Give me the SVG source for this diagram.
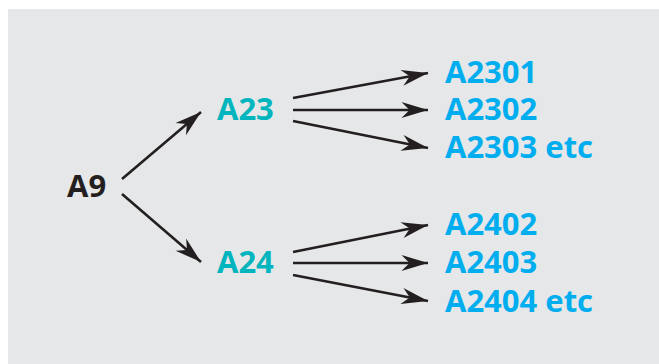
<svg xmlns="http://www.w3.org/2000/svg" width="659" height="364" viewBox="0 0 659 364">
<style>
.t{font-family:"Open Sans","Liberation Sans",sans-serif;font-weight:700;font-size:31px}
.root{fill:#231f20}
.mid{fill:#00b5bd}
.leaf{fill:#00aeef}
.c line{stroke:#231f20;stroke-width:2.6;marker-end:url(#ah)}
</style>
<defs>
<marker id="ah" markerUnits="userSpaceOnUse" markerWidth="30" markerHeight="20" viewBox="-24 -8 26 16" refX="0" refY="0" orient="auto">
<path d="M0,0 L-23,-7 L-16,0 L-23,7 Z" fill="#231f20"/>
</marker>
</defs>
<rect x="8" y="9" width="651" height="355" fill="#e6e7e8"/>
<g class="c" id="connectors">
<line x1="122" y1="179" x2="201" y2="112"/>
<line x1="122" y1="194" x2="201" y2="262"/>
<line x1="293" y1="98" x2="428" y2="73"/>
<line x1="293" y1="110" x2="428" y2="110"/>
<line x1="293" y1="121" x2="428" y2="148"/>
<line x1="293" y1="252" x2="428" y2="225"/>
<line x1="293" y1="263" x2="428" y2="263"/>
<line x1="293" y1="275" x2="428" y2="301"/>
</g>
<g id="A9"><text class="t root" x="67" y="197">A9</text></g>
<g id="A23"><text class="t mid" x="217" y="120">A23</text></g>
<g id="A24"><text class="t mid" x="217" y="273">A24</text></g>
<g id="A2301"><text class="t leaf" x="445" y="83">A2301</text></g>
<g id="A2302"><text class="t leaf" x="445" y="120">A2302</text></g>
<g id="A2303"><text class="t leaf" x="445" y="158">A2303 etc</text></g>
<g id="A2402"><text class="t leaf" x="445" y="235">A2402</text></g>
<g id="A2403"><text class="t leaf" x="445" y="273">A2403</text></g>
<g id="A2404"><text class="t leaf" x="445" y="312">A2404 etc</text></g>
</svg>
